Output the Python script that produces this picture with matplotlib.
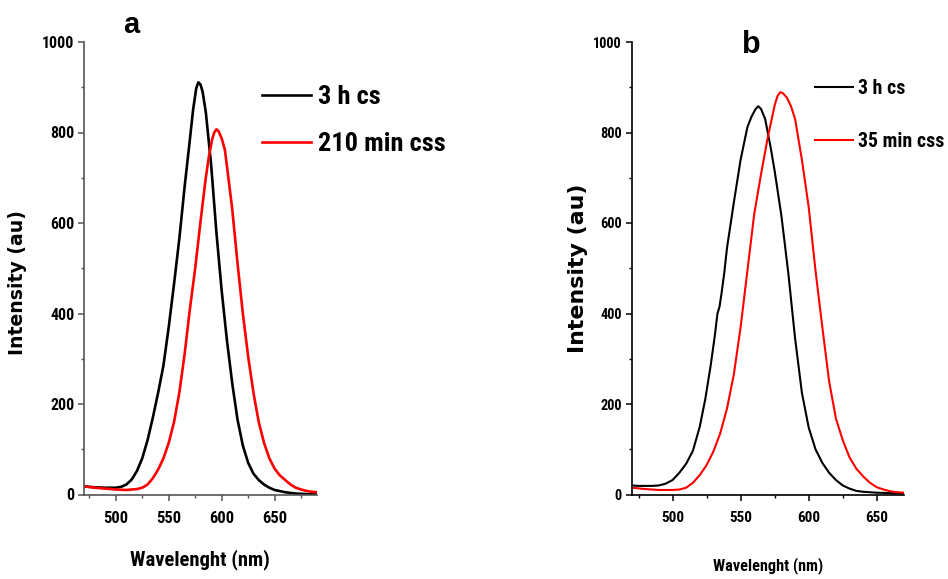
import os
import matplotlib
matplotlib.use("Agg")
import matplotlib.pyplot as plt
from matplotlib import font_manager as fm
from matplotlib.ticker import MultipleLocator

# Emission spectra, panel a
wl_a_cs = [470, 480, 490, 500, 505, 510, 515, 520, 525, 530, 535, 540, 545, 550,
           555, 560, 565, 570, 573, 576, 578, 580, 582, 585, 590, 595, 600, 605, 610,
           615, 620, 625, 630, 635, 640, 645, 650, 660, 670, 680, 690]
int_a_cs = [18, 16, 15, 15, 17, 22, 33, 52, 80, 120, 170, 225, 285, 370,
            465, 565, 680, 785, 850, 898, 911, 906, 890, 845, 730, 580, 450, 340, 245,
            165, 108, 70, 46, 32, 22, 15, 10, 5, 2, 1, 0]

wl_a_css = [470, 480, 490, 500, 510, 515, 520, 525, 530, 535, 540, 545, 550, 555,
            560, 565, 570, 575, 580, 585, 588, 591, 593, 595, 597, 600, 603, 605, 610,
            615, 620, 625, 630, 635, 640, 645, 650, 655, 660, 665, 670, 675, 680, 685,
            690]
int_a_css = [18, 15, 13, 11, 10, 11, 12, 15, 22, 36, 55, 80, 114, 160,
             225, 310, 410, 500, 603, 700, 748, 785, 800, 807, 803, 787, 762, 725, 630,
             510, 400, 305, 225, 160, 114, 80, 57, 42, 32, 22, 15, 11, 8, 6,
             5]

# Emission spectra, panel b
wl_b_cs = [470, 475, 480, 485, 490, 495, 500, 505, 510, 515, 520, 524, 528, 531,
           533, 534.5, 536, 538, 540, 545, 550, 555, 558, 561, 563, 565, 568, 572,
           575, 580, 585, 590, 595, 600, 605, 610, 615, 620, 625, 630, 635, 640,
           650, 660, 670]
int_b_cs = [20, 19, 19, 19, 20, 24, 32, 48, 68, 97, 150, 210, 285, 350,
            400, 415, 445, 490, 545, 645, 740, 812, 835, 852, 858, 852, 830, 768,
            715, 615, 490, 345, 225, 148, 100, 70, 48, 32, 20, 13, 8, 6,
            4, 3, 2]

wl_b_css = [470, 480, 490, 500, 505, 510, 515, 520, 525, 530, 535, 540, 545, 550,
            555, 560, 565, 570, 575, 577, 579, 581, 584, 587, 590, 595, 600, 605, 610,
            615, 620, 625, 630, 635, 640, 645, 650, 655, 660, 665, 670]
int_b_css = [15, 12, 10, 10, 11, 15, 26, 43, 65, 95, 135, 190, 265, 370,
             495, 620, 708, 790, 860, 880, 889, 887, 877, 858, 830, 740, 635, 495, 370,
             250, 168, 120, 82, 57, 40, 26, 16, 11, 7, 5, 4]

labels_a = ["3 h cs", "210 min css"]
labels_b = ["3 h cs", "35 min css"]
x_ticks = [500, 550, 600, 650]
y_ticks = [0, 200, 400, 600, 800, 1000]


def pick_narrow_bold():
    """Return the path of a condensed/narrow bold sans font if one is installed."""
    prefs = ["LiberationSansNarrow-Bold", "RobotoCondensed-Bold", "NotoSans-CondensedBold",
             "OpenSans-CondensedBold", "OpenSans_Condensed-Bold", "DejaVuSansCondensed-Bold"]
    files = [f.fname for f in fm.fontManager.ttflist]
    for p in prefs:
        for f in files:
            if os.path.basename(f).startswith(p):
                return f
    for f in files:
        b = os.path.basename(f).lower()
        if ("condensed" in b or "narrow" in b) and "bold" in b and "italic" not in b \
                and "semi" not in b and "extra" not in b:
            return f
    return None


narrow_path = pick_narrow_bold()
if narrow_path:
    def NFP(size):
        return fm.FontProperties(fname=narrow_path, size=size)
else:
    def NFP(size):
        return fm.FontProperties(family=["Liberation Sans", "DejaVu Sans"],
                                 weight="bold", size=size)


def wide(size):
    return fm.FontProperties(family="DejaVu Sans", weight="bold", size=size)


W, H = 948, 579
fig = plt.figure(figsize=(W / 100, H / 100), dpi=100)
renderer = fig.canvas.get_renderer()


def px(x, y):
    return x / W, 1 - y / H


def fit_size(text, target_w, vertical=False, fp_maker=NFP):
    """Font size giving the requested rendered width (in pixels)."""
    t = fig.text(0, 0, text, fontproperties=fp_maker(20),
                 rotation=90 if vertical else 0)
    bb = t.get_window_extent(renderer)
    t.remove()
    w = bb.height if vertical else bb.width
    return 20 * target_w / w


def style_axes(ax, xlim, spine_color, ysize, xsize):
    ax.set_xlim(*xlim)
    ax.set_ylim(0, 1000)
    for s in ("top", "right"):
        ax.spines[s].set_visible(False)
    for s in ("left", "bottom"):
        ax.spines[s].set_color(spine_color)
        ax.spines[s].set_linewidth(1.2)
    ax.set_xticks(x_ticks)
    ax.set_yticks(y_ticks)
    ax.xaxis.set_minor_locator(MultipleLocator(25))
    ax.yaxis.set_minor_locator(MultipleLocator(100))
    ax.tick_params(which="major", direction="out", length=4, width=1.1,
                   color=spine_color, pad=3)
    ax.tick_params(which="minor", direction="out", length=2.5, width=1.0,
                   color=spine_color)
    ax.tick_params(axis="x", which="major", pad=8)
    for lab in ax.get_yticklabels():
        lab.set_fontproperties(NFP(ysize))
    for lab in ax.get_xticklabels():
        lab.set_fontproperties(NFP(xsize))


def add_legend(ax, labels, size, x0, x_text, y_rows, line_end):
    """Legend whose handles start at x0 and whose rows sit at the given pixel heights."""
    fs_px = size * 100 / 72
    row_h = fs_px * 1.0
    gap = y_rows[1] - y_rows[0]
    ax.legend(loc="center left",
              bbox_to_anchor=px(x0, (y_rows[0] + y_rows[1]) / 2),
              bbox_transform=fig.transFigure, frameon=False, borderpad=0,
              borderaxespad=0, handlelength=(line_end - x0) / fs_px,
              handletextpad=(x_text - line_end) / fs_px,
              labelspacing=max(gap - row_h, 0) / fs_px,
              prop=NFP(size))


# Panel a
ax_a = fig.add_axes([84 / W, 1 - 494.5 / H, (317 - 84) / W, (494.5 - 42) / H])
ax_a.plot(wl_a_cs, int_a_cs, color="black", lw=1.9, label=labels_a[0])
ax_a.plot(wl_a_css, int_a_css, color="#ff0000", lw=1.9, label=labels_a[1])
style_axes(ax_a, (470, 690), "#555555", fit_size("1000", 32), fit_size("500", 25))
add_legend(ax_a, labels_a, fit_size(labels_a[1], 127), 262, 318, (96, 145), 311)

# Panel b
ax_b = fig.add_axes([631.7 / W, 1 - 494.5 / H, (904 - 631.7) / W, (494.5 - 42) / H])
ax_b.plot(wl_b_cs, int_b_cs, color="black", lw=1.5, label=labels_b[0])
ax_b.plot(wl_b_css, int_b_css, color="#ff0000", lw=1.5, label=labels_b[1])
style_axes(ax_b, (470, 670), "black", fit_size("1000", 29), fit_size("500", 23))
add_legend(ax_b, labels_b, fit_size(labels_b[1], 86), 815, 858, (88, 142), 853)

# Axis titles and panel letters
fig.text(*px(200, 560), "Wavelenght (nm)", ha="center", va="center",
         fontproperties=NFP(fit_size("Wavelenght (nm)", 140)))
fig.text(*px(768, 566), "Wavelenght (nm)", ha="center", va="center",
         fontproperties=NFP(fit_size("Wavelenght (nm)", 110)))
fig.text(*px(18, 283), "Intensity (au)", ha="center", va="center", rotation=90,
         fontproperties=wide(fit_size("Intensity (au)", 145, True, wide)))
fig.text(*px(578, 268), "Intensity (au)", ha="center", va="center", rotation=90,
         fontproperties=wide(fit_size("Intensity (au)", 170, True, wide)))
fig.text(*px(131, 25), "a", ha="center", va="center",
         family=["Liberation Sans", "DejaVu Sans"], weight="bold", fontsize=21)
fig.text(*px(751, 45), "b", ha="center", va="center",
         family=["Liberation Sans", "DejaVu Sans"], weight="bold", fontsize=22)

fig.savefig("out.png", dpi=100, facecolor="white")
